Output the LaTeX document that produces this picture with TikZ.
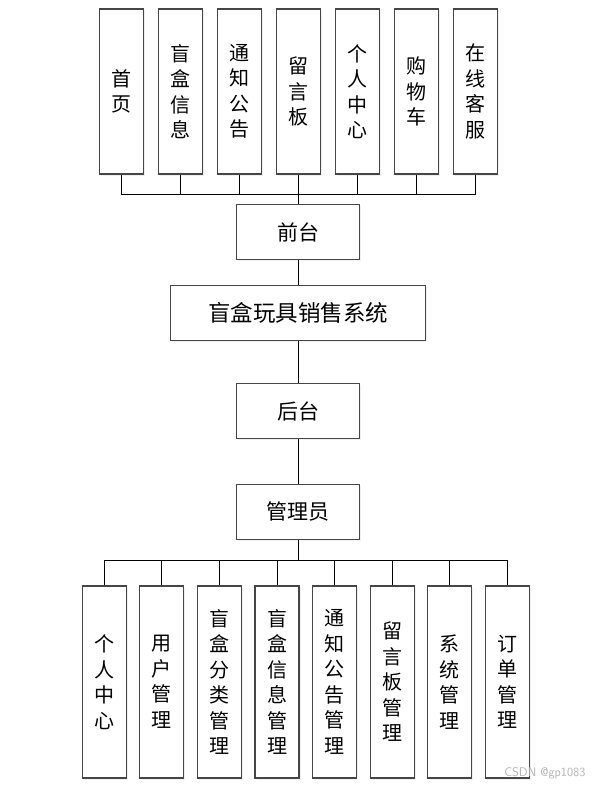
\documentclass[tikz,border=0pt]{standalone}
\usepackage{fontspec}
\newfontfamily\cjk{Noto Sans CJK SC}
\usetikzlibrary{positioning, shadows}
\definecolor{boxline}{RGB}{70,70,70}
\tikzset{
  box/.style={draw=boxline, line width=1.2pt, fill=white, inner sep=0pt, align=center,
    drop shadow={opacity=0.12, shadow xshift=1.5pt, shadow yshift=-1.5pt}},
  colbox/.style={box, minimum width=44pt, font=\cjk\fontsize{20}{25.5}\selectfont},
  rowbox/.style={box, minimum height=55pt, font=\cjk\fontsize{21}{25}\selectfont},
  link/.style={draw=black, line width=1pt}
}

\begin{document}
\begin{tikzpicture}[x=1pt, y=-1pt]
  \useasboundingbox (0,0) rectangle (602,789);

  % front-end pages
  \foreach \t [count=\i] in {{首\\页}, {盲\\盒\\信\\息}, {通\\知\\公\\告}, {留\\言\\板},
                             {个\\人\\中\\心}, {购\\物\\车}, {在\\线\\客\\服}}
    \node[colbox, minimum height=165pt] (f\i) at ({121.3+59*(\i-1)}, 91.5) {\t};

  \node[rowbox, minimum width=123pt] (front) at (298.3, 232) {前台};
  \node[rowbox, minimum width=255pt, font=\cjk\fontsize{22.5}{25}\selectfont] (sys) at (298.3, 313) {盲盒玩具销售系统};
  \node[rowbox, minimum width=123pt] (back) at (298.3, 411) {后台};
  \node[rowbox, minimum width=123pt] (admin) at (298.3, 512) {管理员};

  % admin modules
  \foreach \t [count=\i] in {{个\\人\\中\\心}, {用\\户\\管\\理}, {盲\\盒\\分\\类\\管\\理}, {盲\\盒\\信\\息\\管\\理},
                             {通\\知\\公\\告\\管\\理}, {留\\言\\板\\管\\理}, {系\\统\\管\\理}, {订\\单\\管\\理}}
    \node[colbox, minimum height=192pt] (b\i) at ({104.2+57.6*(\i-1)}, 682) {\t};

  % connectors
  \coordinate (fbus) at (298.3, 194);
  \foreach \i in {1,...,7}
    \draw[link] (f\i.south) |- (fbus);
  \draw[link] (fbus) -- (front.north);
  \draw[link] (front) -- (sys);
  \draw[link] (sys) -- (back);
  \draw[link] (back) -- (admin);
  \coordinate (bbus) at (298.3, 560.3);
  \draw[link] (admin) -- (bbus);
  \foreach \i in {1,...,8}
    \draw[link] (b\i.north) |- (bbus);

  \node[font=\sffamily\fontsize{12.5}{14}\selectfont, text=gray!60, anchor=east] (mark) at (589, 773) {CSDN @gp1083};
\end{tikzpicture}
\end{document}
